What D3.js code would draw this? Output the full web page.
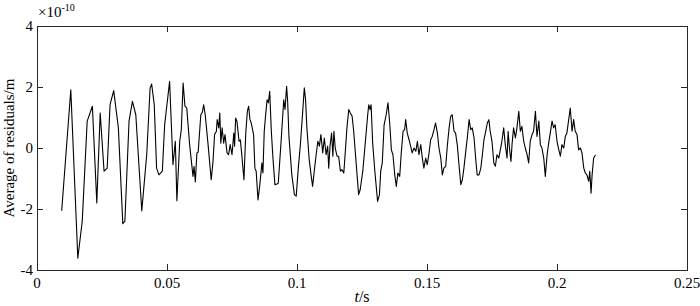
<!DOCTYPE html>
<html>
<head>
<meta charset="utf-8">
<script src="https://cdn.jsdelivr.net/npm/d3@7"></script>
<style>
  body { margin: 0; background: #fff; }
</style>
</head>
<body>
<div id="chart"></div>
<script>
// time in seconds, residual average in units of 1e-10 m
var time = [0.0095,0.0130,0.0157,0.0174,0.0193,0.0213,0.0230,0.0243,0.0258,0.0270,
  0.0281,0.0295,0.0313,0.0330,0.0338,0.0354,0.0367,0.0380,0.0403,0.0422,
  0.0435,0.0441,0.0451,0.0460,0.0469,0.0482,0.0491,0.0510,0.0523,0.0532,
  0.0538,0.0549,0.0555,0.0562,0.0569,0.0576,0.0587,0.0600,0.0604,0.0609,
  0.0615,0.0620,0.0630,0.0636,0.0641,0.0647,0.0658,0.0670,0.0677,0.0683,
  0.0690,0.0693,0.0699,0.0703,0.0707,0.0712,0.0718,0.0723,0.0731,0.0737,
  0.0743,0.0750,0.0757,0.0760,0.0764,0.0769,0.0777,0.0782,0.0787,0.0796,
  0.0803,0.0809,0.0814,0.0819,0.0824,0.0833,0.0838,0.0843,0.0850,0.0857,
  0.0865,0.0869,0.0874,0.0880,0.0885,0.0890,0.0895,0.0901,0.0907,0.0915,
  0.0923,0.0928,0.0938,0.0949,0.0954,0.0960,0.0964,0.0969,0.0980,0.0990,
  0.0997,0.1005,0.1013,0.1022,0.1028,0.1033,0.1038,0.1047,0.1054,0.1060,
  0.1067,0.1073,0.1080,0.1086,0.1092,0.1099,0.1105,0.1112,0.1118,0.1122,
  0.1127,0.1133,0.1138,0.1142,0.1147,0.1154,0.1160,0.1167,0.1173,0.1180,
  0.1185,0.1192,0.1199,0.1205,0.1212,0.1218,0.1223,0.1231,0.1237,0.1243,
  0.1253,0.1262,0.1272,0.1276,0.1281,0.1285,0.1291,0.1300,0.1310,0.1317,
  0.1322,0.1328,0.1335,0.1343,0.1350,0.1357,0.1363,0.1369,0.1376,0.1382,
  0.1388,0.1395,0.1401,0.1408,0.1414,0.1418,0.1424,0.1431,0.1437,0.1443,
  0.1450,0.1457,0.1463,0.1469,0.1476,0.1482,0.1488,0.1495,0.1501,0.1508,
  0.1514,0.1520,0.1527,0.1533,0.1540,0.1546,0.1553,0.1559,0.1565,0.1572,
  0.1578,0.1585,0.1591,0.1597,0.1604,0.1610,0.1617,0.1623,0.1630,0.1636,
  0.1642,0.1649,0.1655,0.1662,0.1668,0.1674,0.1681,0.1687,0.1693,0.1700,
  0.1707,0.1713,0.1719,0.1726,0.1732,0.1738,0.1743,0.1750,0.1757,0.1763,
  0.1769,0.1776,0.1782,0.1788,0.1795,0.1801,0.1808,0.1812,0.1817,0.1823,
  0.1827,0.1833,0.1840,0.1846,0.1853,0.1859,0.1865,0.1872,0.1878,0.1885,
  0.1891,0.1897,0.1904,0.1910,0.1917,0.1923,0.1930,0.1936,0.1942,0.1949,
  0.1955,0.1962,0.1968,0.1974,0.1981,0.1987,0.1993,0.2000,0.2007,0.2013,
  0.2019,0.2026,0.2032,0.2038,0.2045,0.2051,0.2058,0.2064,0.2070,0.2077,
  0.2083,0.2090,0.2096,0.2103,0.2109,0.2115,0.2122,0.2126,0.2131,0.2135,
  0.2141,0.2148];

var residual = [-2.06,1.91,-3.61,-2.40,0.88,1.37,-1.80,1.15,-0.76,-0.66,
  1.42,1.88,0.66,-2.48,-2.40,0.88,1.53,1.09,-2.06,-0.22,
  1.97,2.10,1.42,-0.66,-0.88,-0.76,0.76,2.19,-0.55,0.22,
  -1.73,0.22,0.60,2.13,1.37,1.31,0.11,-0.93,-0.60,-1.11,
  -0.16,-0.13,1.09,1.17,1.42,1.09,0.11,-1.04,-0.44,0.44,
  0.55,0.93,0.66,1.15,0.16,0.66,0.16,0.44,-0.16,-0.22,
  0.11,-0.22,0.49,0.06,0.98,0.88,0.22,0.27,-0.16,-1.04,
  0.49,1.20,1.37,0.93,0.82,0.44,-0.66,-0.76,-1.70,-1.20,
  -0.49,-0.82,0.55,1.15,1.58,1.48,1.86,0.60,-0.27,-1.20,
  -1.18,-1.15,0.11,1.58,1.26,2.02,1.53,0.38,-0.88,-1.53,
  -1.58,-0.66,0.11,1.20,1.97,1.58,0.66,-0.38,-0.88,-1.26,
  -0.71,-0.27,0.22,0.06,0.44,-0.16,0.33,-0.22,0.06,-0.66,
  0.06,0.49,-0.27,0.55,0.00,-0.27,-0.27,-0.76,-0.71,-0.82,
  -0.22,0.66,1.26,1.15,1.04,0.55,0.00,-0.88,-1.53,-1.37,
  -0.76,0.11,1.09,1.42,1.26,1.42,0.16,-0.82,-1.75,-1.54,
  -0.76,-0.49,0.76,1.09,1.48,0.76,-0.06,-0.22,-0.88,-1.26,
  -0.82,-0.93,-0.16,0.55,0.60,0.93,0.49,0.27,0.06,-0.16,
  0.00,-0.11,0.22,-0.22,0.11,-0.33,-0.66,-0.33,-0.55,-0.16,
  0.27,0.38,0.60,0.82,0.49,0.00,-0.33,-0.88,-0.66,-0.60,
  0.06,0.66,1.04,1.09,0.55,0.49,0.06,-0.55,-1.20,-1.04,
  -0.66,-0.11,0.33,0.93,0.60,0.66,0.33,-0.33,-0.88,-0.88,
  -0.66,-0.22,0.27,0.55,0.82,0.93,0.55,0.22,-0.49,-0.60,
  -0.22,-0.33,-0.06,0.22,0.66,0.11,-0.33,0.55,0.00,-0.44,
  0.11,0.66,0.33,0.66,1.20,0.55,0.71,0.22,0.00,-0.22,
  -0.49,0.22,0.44,0.55,1.20,0.38,0.88,0.11,0.00,-0.33,
  -0.93,-0.22,0.16,0.49,0.88,0.66,0.76,0.22,-0.06,-0.27,
  0.11,0.00,0.38,0.49,0.93,1.31,0.55,0.93,0.55,0.44,
  -0.06,0.00,-0.16,-0.66,-0.82,-0.88,-1.09,-0.76,-1.48,-0.88,
  -0.33,-0.23];

var xTicks = [0, 0.05, 0.1, 0.15, 0.2, 0.25];
var xTickLabels = ["0", "0.05", "0.1", "0.15", "0.2", "0.25"];
var yTicks = [-4, -2, 0, 2, 4];

var width = 700, height = 306;
var margin = {top: 26, right: 13, bottom: 36, left: 37};
var innerW = width - margin.left - margin.right;
var innerH = height - margin.top - margin.bottom;
var axisColor = "#262626";
var tickLen = 6;
var serif = "Liberation Serif";

var svg = d3.select("#chart").append("svg")
  .attr("width", width)
  .attr("height", height);

var g = svg.append("g")
  .attr("transform", "translate(" + margin.left + "," + margin.top + ")");

var x = d3.scaleLinear().domain([0, 0.25]).range([0, innerW]);
var y = d3.scaleLinear().domain([-4, 4]).range([innerH, 0]);

var data = time.map(function(t, i){ return {t: t, v: residual[i]}; });

var line = d3.line()
  .x(function(d){ return x(d.t); })
  .y(function(d){ return y(d.v); });

g.append("path")
  .datum(data)
  .attr("fill", "none")
  .attr("stroke", "#000")
  .attr("stroke-width", 1.1)
  .attr("stroke-linejoin", "round")
  .attr("d", line);

// box
g.append("rect")
  .attr("x", 0.5).attr("y", 0.5)
  .attr("width", innerW).attr("height", innerH)
  .attr("fill", "none")
  .attr("stroke", axisColor)
  .attr("stroke-width", 1);

// inward ticks, mirrored on top and right
var ticks = g.append("g").attr("stroke", axisColor).attr("stroke-width", 1);
xTicks.forEach(function(t){
  var px = Math.round(x(t)) + 0.5;
  ticks.append("line").attr("x1", px).attr("x2", px).attr("y1", innerH).attr("y2", innerH - tickLen);
  ticks.append("line").attr("x1", px).attr("x2", px).attr("y1", 0).attr("y2", tickLen);
});
yTicks.forEach(function(v){
  var py = Math.round(y(v)) + 0.5;
  ticks.append("line").attr("x1", 0).attr("x2", tickLen).attr("y1", py).attr("y2", py);
  ticks.append("line").attr("x1", innerW).attr("x2", innerW - tickLen).attr("y1", py).attr("y2", py);
});

g.selectAll(".xlab")
  .data(xTicks)
  .enter().append("text")
  .attr("class", "xlab")
  .attr("x", function(d){ return x(d); })
  .attr("y", innerH + 18)
  .attr("text-anchor", "middle")
  .style("font-family", serif)
  .style("font-size", "15px")
  .text(function(d, i){ return xTickLabels[i]; });

g.selectAll(".ylab")
  .data(yTicks)
  .enter().append("text")
  .attr("class", "ylab")
  .attr("x", -4)
  .attr("y", function(d){ return y(d) + 5; })
  .attr("text-anchor", "end")
  .style("font-family", serif)
  .style("font-size", "15px")
  .text(function(d){ return d; });

// exponent marker
var expo = svg.append("text")
  .attr("x", 38)
  .attr("y", 17)
  .style("font-family", serif)
  .style("font-size", "15px");
expo.append("tspan").text("\u00d710");
expo.append("tspan").attr("dy", -6).style("font-size", "10px").text("-10");

// axis titles
var xt = svg.append("text")
  .attr("x", margin.left + innerW / 2)
  .attr("y", 302)
  .attr("text-anchor", "middle")
  .style("font-family", serif)
  .style("font-size", "16px");
xt.append("tspan").style("font-style", "italic").text("t");
xt.append("tspan").text("/s");

svg.append("text")
  .attr("transform", "translate(14," + (margin.top + innerH / 2) + ") rotate(-90)")
  .attr("text-anchor", "middle")
  .style("font-family", serif)
  .style("font-size", "15px")
  .text("Average of residuals/m");
</script>
</body>
</html>
